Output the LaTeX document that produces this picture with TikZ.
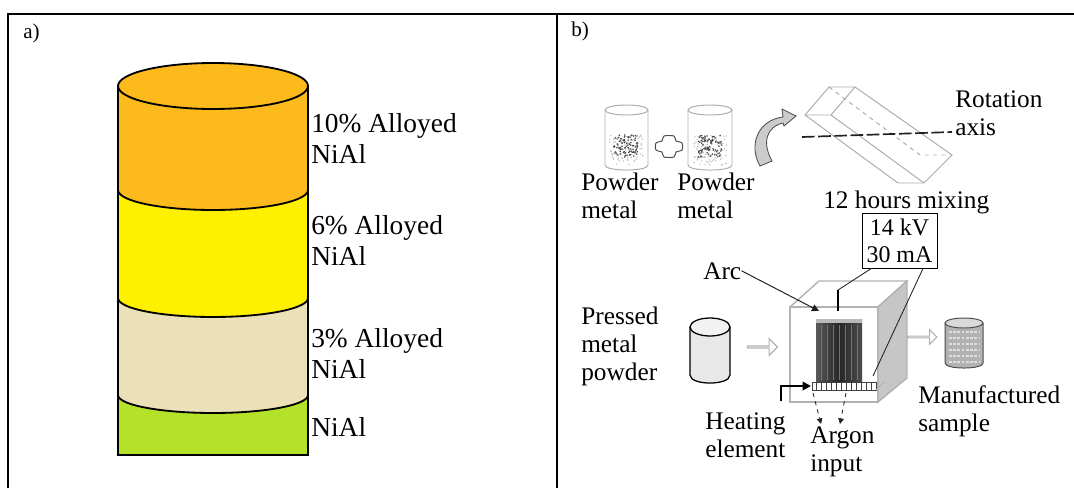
\documentclass[tikz,border=0pt]{standalone}
\usepackage{fontspec}
\setmainfont{Liberation Serif}
\usetikzlibrary{arrows.meta, shapes.arrows, calc}

\definecolor{tenpct}{RGB}{252,186,28}
\definecolor{sixpct}{RGB}{255,240,0}
\definecolor{threepct}{RGB}{236,224,184}
\definecolor{basealloy}{RGB}{180,226,40}

\begin{document}
\begin{tikzpicture}[x=0.025cm, y=-0.025cm,
    every node/.style={inner sep=0pt},
    panel/.style={anchor=base west, font=\fontsize{15}{18}\selectfont},
    layertext/.style={anchor=base west, align=left, font=\fontsize{19.5}{21.5}\selectfont},
    steptext/.style={anchor=base west, align=left, font=\fontsize{18}{19.8}\selectfont},
    rim/.style={line width=1.3pt, draw=black},
    sketch/.style={draw=gray!65, line width=0.7pt},
    hollow/.style={single arrow, draw=gray!60, line width=0.8pt, fill=white,
        minimum width=0.42cm, single arrow head extend=0.1cm}]

    \useasboundingbox (0,0) rectangle (1074,488);

    % Table frame
    \draw[line width=1.4pt] (8,488) -- (8,14) -- (1074,14);
    \draw[line width=1.4pt] (557,14) -- (557,488);
    \node[panel] (pa) at (23,38) {a)};
    \node[panel] (pb) at (571,36) {b)};

    % a) layered cylinder, bottom band first; front rims are lower half ellipses
    \fill[basealloy] (118,455) -- plot[domain=180:360, samples=40] ({213+95*cos(\x)}, {395-18*sin(\x)})
        -- (308,455) -- cycle;
    \fill[threepct] (118,298) -- plot[domain=180:360, samples=40] ({213+95*cos(\x)}, {395-18*sin(\x)})
        -- plot[domain=360:180, samples=40] ({213+95*cos(\x)}, {298-19*sin(\x)}) -- cycle;
    \fill[sixpct] (118,190) -- plot[domain=180:360, samples=40] ({213+95*cos(\x)}, {298-19*sin(\x)})
        -- plot[domain=360:180, samples=40] ({213+95*cos(\x)}, {190-20*sin(\x)}) -- cycle;
    \fill[tenpct] (118,86) -- plot[domain=180:360, samples=40] ({213+95*cos(\x)}, {190-20*sin(\x)})
        -- plot[domain=360:180, samples=40] ({213+95*cos(\x)}, {86-23*sin(\x)}) -- cycle;
    \filldraw[fill=tenpct, rim] (213,86) ellipse[x radius=95, y radius=23];
    \draw[rim] (118,86) -- (118,455) -- (308,455) -- (308,86);
    \draw[rim] plot[domain=180:360, samples=40] ({213+95*cos(\x)}, {190-20*sin(\x)});
    \draw[rim] plot[domain=180:360, samples=40] ({213+95*cos(\x)}, {298-19*sin(\x)});
    \draw[rim] plot[domain=180:360, samples=40] ({213+95*cos(\x)}, {395-18*sin(\x)});

    \node[layertext] (ten) at (311,163) {10\% Alloyed\\NiAl};
    \node[layertext] (six) at (311,265) {6\% Alloyed\\NiAl};
    \node[layertext] (three) at (311,378) {3\% Alloyed\\NiAl};
    \node[layertext] (base) at (311,436) {NiAl};

    % b) two powder jars
    \draw[sketch] (605,110) -- (605,165) .. controls (605,171.7) and (648,171.7) .. (648,165) -- (648,110);
    \draw[sketch] (626.5,110) ellipse[x radius=21.5, y radius=5];
    \draw[sketch] (688,110) -- (688,165) .. controls (688,171.7) and (732,171.7) .. (732,165) -- (732,110);
    \draw[sketch] (710,110) ellipse[x radius=22, y radius=5];
    \pgfmathsetseed{11}
    \foreach \k in {1,...,90} {
        \fill[gray!55!black] (626+12*rand, 146+11*rand) circle[radius=0.9];
        \fill[gray!55!black] (710+12*rand, 146+11*rand) circle[radius=0.9];
        \fill[gray!50] (626+17*rand, 150+15*rand) circle[radius=0.8];
        \fill[gray!50] (710+17*rand, 150+15*rand) circle[radius=0.8];
    }
    \draw[gray!60!black, line width=0.7pt] plot[smooth cycle, tension=0.5] coordinates
        {(664,136) (674,136) (676,141) (682,143) (682,150) (676,152) (674,157) (664,157) (662,152) (656,150) (656,143) (662,141)};

    % turning arrow into the mixer
    \filldraw[fill=gray!40, draw=gray!60!black, line width=0.6pt] (760,166)
        .. controls (748,145) and (758,120) .. (783,117) -- (782,109) -- (796,116) -- (784,126) -- (783,123)
        .. controls (766,127) and (762,143) .. (772,161) -- cycle;

    % mixing container
    \draw[sketch] (805,115) -- (829,87) -- (855,87) -- (831,115) -- cycle;
    \draw[sketch] (805,115) -- (898,183) -- (924,183) -- (952,155) -- (855,87);
    \draw[sketch] (831,115) -- (924,183);
    \draw[sketch, dashed] (829,87) -- (920,155) -- (952,155);
    \coordinate (axisstart) at (802,137);
    \coordinate (axisend) at (952,132);
    \draw[gray!25!black, line width=1.2pt, dash pattern=on 9pt off 2.5pt] (axisstart) -- (axisend);

    \node[steptext] (rot) at (955,135) {Rotation\\axis};
    \node[steptext] (pm1) at (581,218) {Powder\\metal};
    \node[steptext] (pm2) at (677,218) {Powder\\metal};
    \node[steptext] (mix) at (823,208) {12 hours mixing};

    % power supply
    \node[draw, line width=0.6pt, align=center, minimum width=1.875cm, minimum height=1.375cm,
        font=\fontsize{17}{19}\selectfont] (supply) at (899.5,240.5) {14 kV\\30 mA};

    % pressed sample
    \filldraw[fill=gray!18, draw=black, line width=0.9pt] (690,327) -- (690,375)
        .. controls (690,385.7) and (730,385.7) .. (730,375) -- (730,327);
    \filldraw[fill=gray!10, draw=black, line width=0.9pt] (710,327) ellipse[x radius=20, y radius=9];
    \node[hollow, minimum height=0.75cm] (feed) at (762,347) {};

    % arc furnace
    \draw[gray!60, line width=1pt, fill=white] (790,307) rectangle (878,402);
    \draw[gray!60, line width=1pt] (790,307) -- (819,281) -- (907,281) -- (878,307);
    \filldraw[fill=gray!45, draw=gray!60, line width=1pt] (878,307) -- (907,281) -- (907,378) -- (878,402) -- cycle;
    \shade[left color=gray!70!black, right color=gray!60!black, middle color=black!85] (816,319) rectangle (862,381);
    \fill[gray!55] (816,319) rectangle (862,323);
    \foreach \s in {821,827,...,859}
        \draw[black!55, line width=0.5pt] (\s,325) -- (\s,380);
    \draw[gray!50!black, line width=0.5pt] (812,382) rectangle (876,390);
    \foreach \s in {816,821,...,873}
        \draw[gray!50!black, line width=0.4pt] (\s,382) -- (\s,390);
    \draw[gray!60, line width=0.6pt] (876,390) -- (884,382);

    \coordinate (electop) at (838,290);
    \coordinate (elecbot) at (838,311);
    \draw[line width=2pt] (electop) -- (elecbot);
    \coordinate (wireend) at (873,376);
    \draw[gray!25!black, line width=0.6pt] ($(supply.south west)!0.13!(supply.south east)$) -- (electop);
    \draw[gray!25!black, line width=0.6pt] ($(supply.south west)!0.81!(supply.south east)$) -- (wireend);

    \node[steptext] (arc) at (703,279) {Arc};
    \coordinate (arctip) at (819,311);
    \draw[gray!25!black, line width=0.7pt, -{Triangle[length=5pt, width=5pt]}] (arc.east) -- (arctip);

    \coordinate (heatfoot) at (781,401);
    \coordinate (heatin) at (811,386);
    \draw[line width=1.8pt, -{Triangle[length=6pt, width=6pt]}] (heatfoot) |- (heatin);

    \coordinate (gasA) at (813,393);
    \coordinate (gasAend) at (821,424);
    \coordinate (gasB) at (846,393);
    \coordinate (gasBend) at (840,424);
    \draw[gray!30!black, dashed, line width=0.6pt, -{Triangle[length=4pt, width=4pt]}] (gasA) -- (gasAend);
    \draw[gray!30!black, dashed, line width=0.6pt, -{Triangle[length=4pt, width=4pt]}] (gasB) -- (gasBend);

    % finished sample
    \node[hollow, minimum height=0.72cm, minimum width=0.36cm] (out) at (922,337) {};
    \filldraw[fill=gray!60, draw=black!70, line width=0.7pt] (945,323) -- (945,363)
        .. controls (945,369.7) and (983,369.7) .. (983,363) -- (983,323);
    \filldraw[fill=gray!30, draw=black!70, line width=0.7pt] (964,323) ellipse[x radius=19, y radius=5];
    \foreach \s in {332,338,...,362}
        \draw[white!75!gray, line width=0.8pt, dash pattern=on 2pt off 1pt] (949,\s) -- (979,\s);

    \node[steptext] (pressed) at (581,380) {Pressed\\metal\\powder};
    \node[steptext] (heat) at (705,457) {Heating\\element};
    \node[steptext] (argon) at (810,471) {Argon\\input};
    \node[steptext] (made) at (918,431) {Manufactured\\sample};
\end{tikzpicture}
\end{document}
